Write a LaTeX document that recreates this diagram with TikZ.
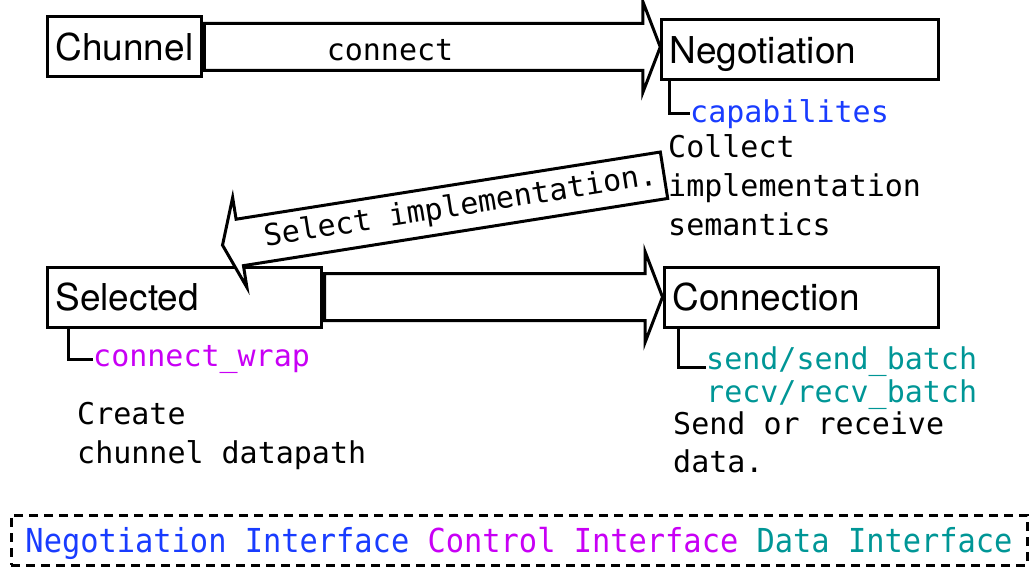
\documentclass[tikz,border=0pt]{standalone}
\usepackage{fontspec}
\setmainfont{TeX Gyre Heros}
\setmonofont{DejaVu Sans Mono}
\newfontfamily\legendfont[FakeStretch=0.92]{DejaVu Sans Mono}
\usetikzlibrary{shapes.arrows,calc}

\definecolor{negblue}{RGB}{25,60,255}
\definecolor{ctrlmagenta}{RGB}{200,0,245}
\definecolor{datateal}{RGB}{0,150,150}

\begin{document}
\begin{tikzpicture}[x=1pt,y=1pt,yscale=-1,xscale=1,
		stage/.style={draw, line width=3, minimum height=60, inner xsep=8, inner ysep=0, text height=27, text depth=0, anchor=west, font=\fontsize{37}{44}\selectfont},
		blockarrow/.style={single arrow, draw, fill=white, line width=3, single arrow head extend=22, single arrow tip angle=138, inner ysep=0, inner xsep=0},
		note/.style={anchor=north west, inner sep=0, align=left, font=\ttfamily\fontsize{30}{39}\selectfont},
		bracket/.style={line width=3}]
		\useasboundingbox (0,0) rectangle (1031,567); % Set diagram size to 1031 x 567

		% Draw the four stage boxes
		\node[stage] (chunnel) at (46,47) {Chunnel};
		\node[stage, text width=261, align=left] (negotiation) at (660,50) {Negotiation};
		\node[stage, text width=258, align=left] (selected) at (46,297) {Selected};
		\node[stage, text width=258, align=left] (connection) at (663,297) {Connection};

		% Draw the two horizontal block arrows
		\node[blockarrow, anchor=tail, minimum height=456, text height=44, text depth=0] (connectarrow) at (chunnel.east) {};
		\node[font=\ttfamily\fontsize{30}{36}\selectfont] (connectlbl) at (390,50) {connect};
		\node[blockarrow, anchor=tail, minimum height=338, text height=44, text depth=0] (datapatharrow) at (selected.east) {};

		% Draw the tilted block arrow back to "Selected"
		\coordinate (seltail) at (665.5,175);
		\node[blockarrow, shape border rotate=180, rotate=9, anchor=tail, minimum height=447, text height=30, text depth=14, font=\ttfamily\fontsize{30}{36}\selectfont] (selectarrow) at (seltail) {\hspace*{26pt}Select implementation.};

		% The interface names in colour
		\node[note, text=negblue] (capab) at (690,99) {capabilites};
		\node[note, text=ctrlmagenta] (cwrap) at (93,345) {connect\_wrap};
		\node[note, text=datateal, font=\ttfamily\fontsize{30}{33}\selectfont] (sendrecv) at (706,347) {send/send\_batch\\recv/recv\_batch};

		% The brackets from the boxes to the interface names
		\draw[bracket] ([xshift=9]negotiation.south west) |- (capab.west);
		\draw[bracket] ([xshift=22]selected.south west) |- (cwrap.west);
		\draw[bracket] ([xshift=15]connection.south west) |- ($(sendrecv.north west)+(0,20)$);

		% The descriptions in black
		\node[note] (collectnote) at (668,134) {Collect\\implementation\\semantics};
		\node[note] (createnote) at (77,402) {Create\\chunnel datapath};
		\node[note, font=\ttfamily\fontsize{30}{38}\selectfont] (sendnote) at (673,412) {Send or receive\\data.};

		% The dashed legend at the bottom
		\node[draw, dash pattern=on 9 off 6, line width=3, minimum width=1016, minimum height=50, inner sep=0, text height=28, text depth=4, font=\legendfont\fontsize{33}{40}\selectfont] (legend) at (519,540) {\textcolor{negblue}{Negotiation Interface} \textcolor{ctrlmagenta}{Control Interface} \textcolor{datateal}{Data Interface}};
	\end{tikzpicture}
\end{document}
